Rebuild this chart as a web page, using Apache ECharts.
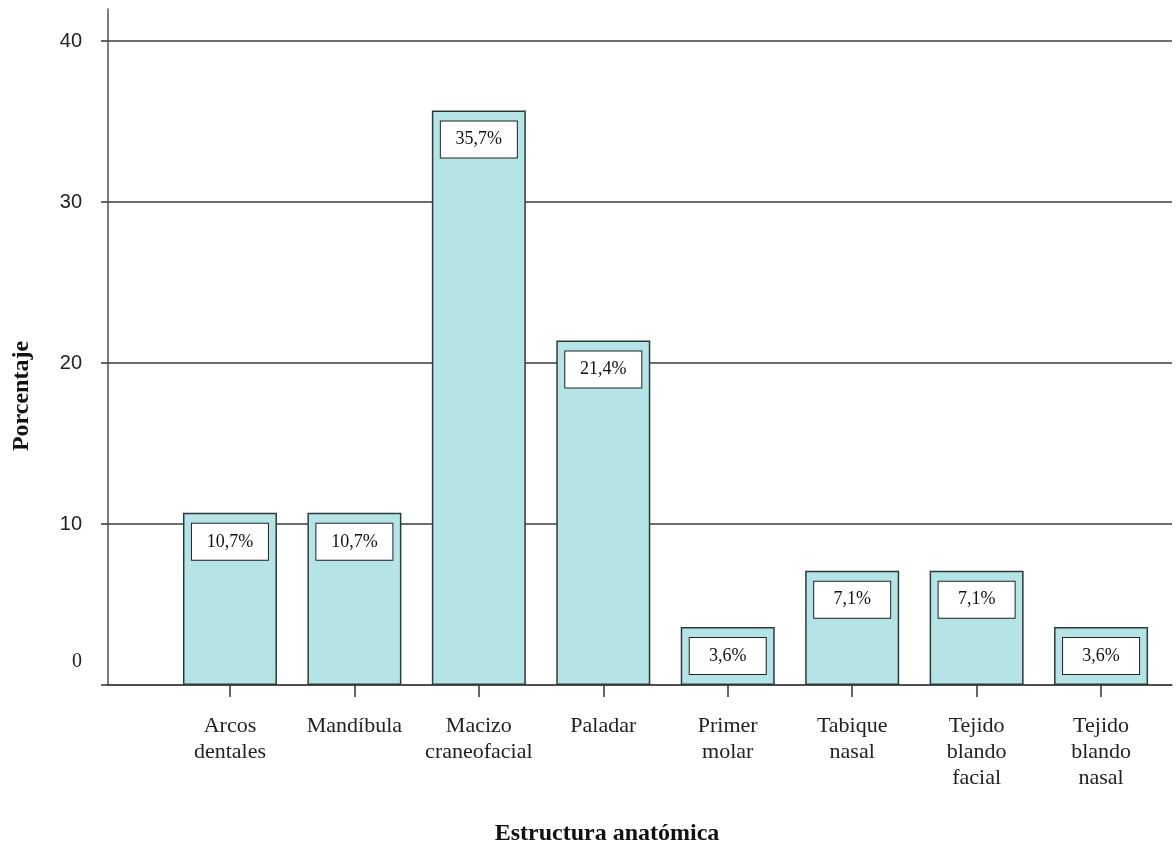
<!DOCTYPE html>
<html lang="es">
<head>
    <meta charset="UTF-8">
    <title>Estructura anatómica</title>
    <style type="text/css">
        html,
        body,
        .canvas {
            padding: 0;
            margin: 0;
            background-color: #fff;
            width: 100%;
            height: 100%;
        }
    </style>
</head>
<body>
<div class="canvas" id="chart"></div>
<script type="text/javascript" src="https://cdn.jsdelivr.net/npm/echarts@6/dist/echarts.min.js"></script>
<script>
    const categories = ['Arcos\ndentales', 'Mandíbula', 'Macizo\ncraneofacial', 'Paladar',
        'Primer\nmolar', 'Tabique\nnasal', 'Tejido\nblando\nfacial', 'Tejido\nblando\nnasal'];
    const values = [10.7, 10.7, 35.7, 21.4, 3.6, 7.1, 7.1, 3.6];
    const yTicks = [0, 10, 20, 30, 40];

    const positions = categories.map(function (c, i) { return i + 1; });
    const barData = values.map(function (v, i) { return [positions[i], v]; });

    const serif = '"Liberation Serif", "DejaVu Serif", serif';
    const chart = echarts.init(document.getElementById('chart'));

    chart.setOption({
        animation: false,
        backgroundColor: '#fff',
        grid: {left: 108, right: 4, top: 9, bottom: 167},
        xAxis: {
            type: 'value',
            min: 0.02,
            max: 8.57,
            name: 'Estructura anatómica',
            nameLocation: 'middle',
            nameGap: 137,
            nameTextStyle: {
                fontFamily: serif, fontSize: 24, fontWeight: 'bold', color: '#111',
                padding: [0, 66, 0, 0]
            },
            splitLine: {show: false},
            axisLine: {lineStyle: {color: '#444', width: 1.5}},
            axisTick: {
                customValues: positions,
                length: 12,
                lineStyle: {color: '#333', width: 1.5}
            },
            axisLabel: {
                customValues: positions,
                margin: 28,
                fontFamily: serif,
                fontSize: 22,
                lineHeight: 26,
                color: '#222',
                formatter: function (v) {
                    return categories[Math.round(v) - 1] || '';
                }
            }
        },
        yAxis: {
            type: 'value',
            min: 0,
            max: 42,
            interval: 10,
            name: 'Porcentaje',
            nameLocation: 'middle',
            nameGap: 74,
            nameTextStyle: {
                fontFamily: serif, fontSize: 24, fontWeight: 'bold', color: '#111',
                padding: [0, 98, 0, 0]
            },
            axisLine: {show: true, lineStyle: {color: '#555', width: 1.5}},
            axisTick: {
                show: true,
                customValues: yTicks,
                length: 7,
                lineStyle: {color: '#333', width: 1.5}
            },
            splitLine: {
                show: true,
                lineStyle: {color: ['#3c3c3c', '#3c3c3c', '#3c3c3c', '#3c3c3c', '#3c3c3c', 'rgba(0,0,0,0)'], width: 1.5}
            },
            axisLabel: {
                customValues: yTicks,
                margin: 26,
                fontFamily: '"Liberation Sans", Arial, sans-serif',
                fontSize: 20,
                color: '#222',
                formatter: function (v) {
                    return v === 0 ? '{z|0}' : String(v);
                },
                rich: {
                    z: {padding: [0, 0, 46, 0], fontSize: 20, color: '#222', fontFamily: serif}
                }
            }
        },
        series: [{
            type: 'bar',
            data: barData,
            barWidth: 94,
            itemStyle: {color: '#b4e4e5', borderColor: '#2e3a3a', borderWidth: 1.5},
            label: {
                show: true,
                position: 'insideTop',
                distance: 11,
                fontFamily: serif,
                fontSize: 18,
                color: '#111',
                backgroundColor: '#fff',
                borderColor: '#222',
                borderWidth: 1,
                width: 76,
                height: 36,
                lineHeight: 36,
                align: 'center',
                formatter: function (p) {
                    return p.value[1].toFixed(1).replace('.', ',') + '%';
                }
            }
        }]
    });
</script>
</body>
</html>
